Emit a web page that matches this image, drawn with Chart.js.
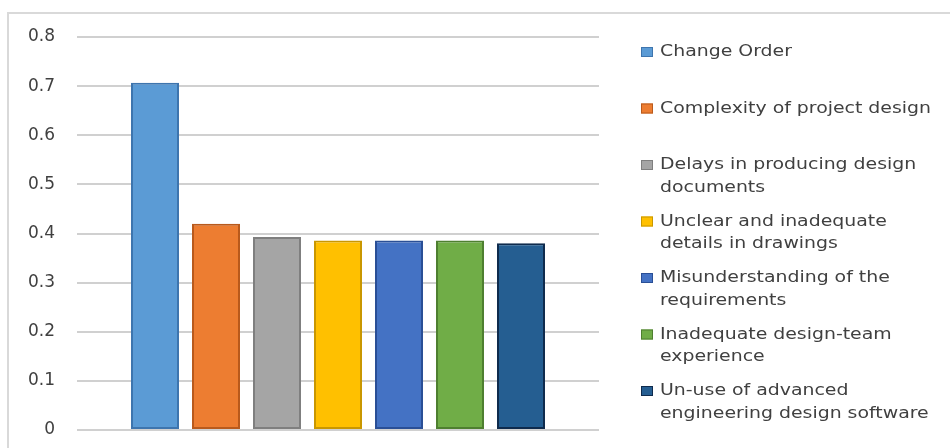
<!DOCTYPE html>
<html>
<head>
<meta charset="utf-8">
<script src="https://cdn.jsdelivr.net/npm/chart.js@4/dist/chart.umd.min.js"></script>
<style>
  html, body { margin: 0; padding: 0; background: #fff; }
  #wrap { width: 950px; height: 448px; position: relative; }
</style>
</head>
<body>
<div id="wrap"><canvas id="chart"></canvas></div>
<script>
// causes of design errors, each split into the lines shown in the legend
const causes = [
  ["Change Order"],
  ["Complexity of project design"],
  ["Delays in producing design", "documents"],
  ["Unclear and inadequate", "details in drawings"],
  ["Misunderstanding of the", "requirements"],
  ["Inadequate design-team", "experience"],
  ["Un-use of advanced", "engineering design software"]
]
const scores = [0.707, 0.42, 0.393, 0.386, 0.386, 0.386, 0.38]
const fills = ["#5B9BD5", "#ED7D31", "#A5A5A5", "#FFC000", "#4472C4", "#70AD47", "#255E91"]
const edges = ["#3E75AE", "#B95A1C", "#7F7F7F", "#C99700", "#2A4F96", "#4E7F30", "#0F2B4D"]
const yTicks = [0, 0.1, 0.2, 0.3, 0.4, 0.5, 0.6, 0.7, 0.8]

const textColor = "#404040"

// light frame round the whole chart
const framePlugin = {
  id: "frame",
  beforeDraw(chart) {
    const ctx = chart.ctx
    ctx.save()
    ctx.strokeStyle = "#d9d9d9"
    ctx.lineWidth = 2
    ctx.strokeRect(8, 13, 960, 460)
    ctx.restore()
  }
}

// legend on the right: square marker, wrapped label lines
const sideLegend = {
  id: "sideLegend",
  afterDraw(chart, args, opts) {
    const ctx = chart.ctx
    ctx.save()
    ctx.font = "16px 'DejaVu Sans'"
    ctx.textBaseline = "middle"
    chart.data.datasets.forEach((ds, i) => {
      const y = opts.top + i * opts.step
      ctx.fillStyle = ds.backgroundColor
      ctx.fillRect(opts.x, y - 5, 12, 10)
      ctx.strokeStyle = ds.borderColor
      ctx.lineWidth = 1
      ctx.strokeRect(opts.x + 0.5, y - 4.5, 11, 9)
      ctx.fillStyle = textColor
      ds.lines.forEach((line, j) => {
        ctx.save()
        ctx.translate(opts.x + 19, y + j * opts.lineGap)
        ctx.scale(1.18, 1)
        ctx.fillText(line, 0, 0)
        ctx.restore()
      })
    })
    ctx.restore()
  }
}

new Chart(document.getElementById("chart"), {
  type: "bar",
  data: {
    labels: [""],
    datasets: causes.map((lines, i) => ({
      label: lines.join(" "),
      lines: lines,
      data: [scores[i]],
      backgroundColor: fills[i],
      borderColor: edges[i],
      borderWidth: 2,
      borderSkipped: false
    }))
  },
  options: {
    responsive: true,
    maintainAspectRatio: false,
    animation: false,
    categoryPercentage: 0.818,
    barPercentage: 0.787,
    layout: { padding: { left: 0, right: 351, top: 37, bottom: 18 } },
    plugins: {
      legend: { display: false },
      tooltip: { enabled: false },
      sideLegend: { x: 641, top: 52, step: 56.5, lineGap: 22.5 }
    },
    scales: {
      x: { display: false },
      y: {
        min: 0,
        max: 0.8,
        afterFit(scale) {
          scale.width = 77
          scale.paddingBottom = 0
        },
        afterBuildTicks(scale) { scale.ticks = yTicks.map(v => ({ value: v })) },
        border: { display: false },
        grid: { color: "#d0d0d0", lineWidth: 2, drawTicks: false },
        ticks: {
          padding: 22,
          color: textColor,
          font: { family: "'DejaVu Sans'", size: 17 },
          callback: v => String(Math.round(v * 10) / 10)
        }
      }
    }
  },
  plugins: [framePlugin, sideLegend]
})
</script>
</body>
</html>
